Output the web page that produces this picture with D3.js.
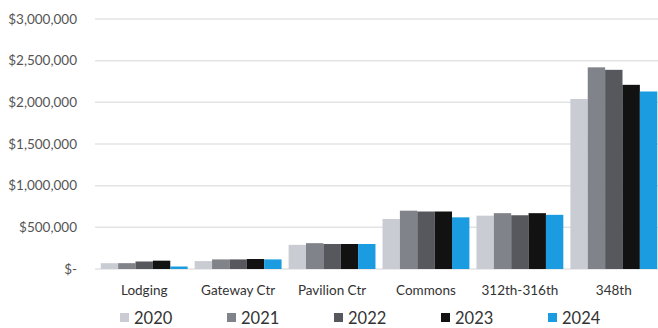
<!DOCTYPE html>
<html>
<head>
<meta charset="utf-8">
<script src="https://cdn.jsdelivr.net/npm/d3@7"></script>
<style>
  body { margin: 0; background: #fff; }
  svg text { font-family: Lato, "Open Sans", sans-serif; }
  .grid line { stroke: #e3e3e3; stroke-width: 1.5; }
</style>
</head>
<body>
<div id="chart"></div>
<script>
// categories and yearly series (dollars)
var categories = ["Lodging", "Gateway Ctr", "Pavilion Ctr", "Commons", "312th-316th", "348th"];
var years = ["2020", "2021", "2022", "2023", "2024"];
var v2020 = [70000, 95000, 290000, 600000, 640000, 2040000];
var v2021 = [70000, 115000, 310000, 700000, 670000, 2420000];
var v2022 = [90000, 115000, 300000, 690000, 645000, 2390000];
var v2023 = [100000, 120000, 300000, 690000, 670000, 2210000];
var v2024 = [30000, 115000, 300000, 620000, 650000, 2130000];
var yTicks = [0, 500000, 1000000, 1500000, 2000000, 2500000, 3000000];
var colors = ["#c9cdd3", "#80838a", "#56585e", "#121212", "#1b9be0"];

var series = [v2020, v2021, v2022, v2023, v2024];

var chartWidth = 658, chartHeight = 328;
var margin = {top: 19, right: -3, bottom: 59, left: 97};
var width = chartWidth - margin.left - margin.right,
    height = chartHeight - margin.top - margin.bottom;

var svg = d3.select("#chart").append("svg")
    .attr("width", chartWidth)
    .attr("height", chartHeight);

var g = svg.append("g")
    .attr("transform", "translate(" + margin.left + "," + margin.top + ")");

var x0 = d3.scaleBand().domain(categories).range([0, width]).paddingInner(0.075).paddingOuter(0.04);
var x1 = d3.scaleBand().domain(years).range([0, x0.bandwidth()]);
var y = d3.scaleLinear().domain([0, 3000000]).range([height, 0]);

var fmt = function(d) { return d === 0 ? "$-" : "$" + d3.format(",")(d); };

// gridlines
g.append("g").attr("class", "grid")
  .selectAll("line").data(yTicks).enter().append("line")
    .attr("x1", -2).attr("x2", width + 10)
    .attr("y1", function(d) { return y(d); })
    .attr("y2", function(d) { return y(d); });

// y axis labels
var yAxis = g.append("g")
    .attr("transform", "translate(-17,0)")
    .call(d3.axisLeft(y).tickValues(yTicks).tickFormat(fmt).tickSize(0));
yAxis.attr("font-family", null);
yAxis.select(".domain").remove();
yAxis.selectAll("text").style("font-size", "13.5px").style("fill", "#555");

// bars
var rows = categories.map(function(c, i) {
  return {cat: c, vals: years.map(function(yr, j) { return {year: yr, j: j, v: series[j][i]}; })};
});

var groups = g.selectAll(".grp").data(rows).enter().append("g")
    .attr("class", "grp")
    .attr("transform", function(d) { return "translate(" + x0(d.cat) + ",0)"; });

groups.selectAll("rect").data(function(d) { return d.vals; }).enter().append("rect")
    .attr("x", function(d) { return x1(d.year); })
    .attr("width", x1.bandwidth())
    .attr("y", function(d) { return y(d.v); })
    .attr("height", function(d) { return height - y(d.v); })
    .attr("fill", function(d) { return colors[d.j]; });

// category axis
var xAxis = g.append("g")
    .attr("transform", "translate(0," + height + ")")
    .call(d3.axisBottom(x0).tickSize(0).tickPadding(16));
xAxis.attr("font-family", null);
xAxis.select(".domain").remove();
xAxis.selectAll("text").style("font-size", "13.5px").style("fill", "#333");

// legend
var legend = svg.append("g").attr("transform", "translate(120,318)");
var item = legend.selectAll("g").data(years).enter().append("g")
    .attr("transform", function(d, i) { return "translate(" + (i * 107) + ",0)"; });
item.append("rect")
    .attr("x", 0).attr("y", -5).attr("width", 9).attr("height", 9)
    .attr("fill", function(d, i) { return colors[i]; });
item.append("text")
    .attr("x", 14).attr("y", 0).attr("dy", "0.36em")
    .style("font-size", "16.5px").style("fill", "#333")
    .text(function(d) { return d; });
</script>
</body>
</html>
